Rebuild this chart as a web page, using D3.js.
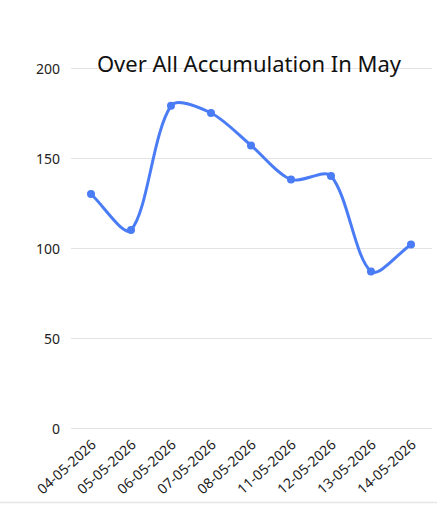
<!DOCTYPE html>
<html><head><meta charset="utf-8">
<script src="https://cdn.jsdelivr.net/npm/d3@7"></script>
<style>html,body{margin:0;padding:0;background:#fff;}svg{display:block;}</style>
</head><body>
<svg id="c" width="440" height="505"></svg>
<script>
const categories = ["04-05-2026","05-05-2026","06-05-2026","07-05-2026","08-05-2026","11-05-2026","12-05-2026","13-05-2026","14-05-2026"];
const values = [130, 110, 179, 175, 157, 138, 140, 87, 102];
const yTicks = [0, 50, 100, 150, 200];
const title = "Over All Accumulation In May";

const svg = d3.select("#c");
const font = "'Noto Sans', 'Open Sans', sans-serif";
const x = d3.scalePoint().domain(categories).range([71, 431]).padding(0.5);
const y = d3.scaleLinear().domain([0, 200]).range([428, 68]);

// bottom border
svg.append("line").attr("x1", 0).attr("x2", 437).attr("y1", 502.5).attr("y2", 502.5)
  .attr("stroke", "#e6e6e6").attr("stroke-width", 1.5);

// grid
svg.append("g").selectAll("line").data(yTicks).join("line")
  .attr("x1", 71).attr("x2", 432)
  .attr("y1", d => Math.round(y(d)) + 0.5).attr("y2", d => Math.round(y(d)) + 0.5)
  .attr("stroke", "#e3e3e3").attr("stroke-width", 1);

// y labels
svg.append("g").selectAll("text").data(yTicks).join("text")
  .attr("x", 60).attr("y", d => y(d) + 1).attr("dy", "0.35em")
  .attr("text-anchor", "end").attr("font-family", font).attr("font-size", 14)
  .attr("fill", "#222").text(d => d);

// x labels
svg.append("g").selectAll("text").data(categories).join("text")
  .attr("transform", d => `translate(${x(d) + 6},446) rotate(-42)`)
  .attr("text-anchor", "end").attr("font-family", font).attr("font-size", 14)
  .attr("fill", "#222").text(d => d);

// title
svg.append("text").attr("x", 249).attr("y", 72).attr("text-anchor", "middle")
  .attr("font-family", font).attr("font-size", 22).attr("fill", "#111").text(title);

// Chart.js-style spline built from scaled points
const pts = values.map((v, i) => [x(categories[i]), y(v)]);
const t = 0.3;
const cps = pts.map((p, i) => {
  const prev = pts[i - 1] || p, next = pts[i + 1] || p;
  const d01 = Math.hypot(p[0] - prev[0], p[1] - prev[1]);
  const d12 = Math.hypot(next[0] - p[0], next[1] - p[1]);
  let s01 = d01 / (d01 + d12), s12 = d12 / (d01 + d12);
  if (!isFinite(s01)) s01 = 0; if (!isFinite(s12)) s12 = 0;
  const fa = t * s01, fb = t * s12;
  return {
    prev: [p[0] - fa * (next[0] - prev[0]), p[1] - fa * (next[1] - prev[1])],
    next: [p[0] + fb * (next[0] - prev[0]), p[1] + fb * (next[1] - prev[1])]
  };
});
const path = d3.path();
path.moveTo(pts[0][0], pts[0][1]);
for (let i = 1; i < pts.length; i++) {
  const a = cps[i - 1].next, b = cps[i].prev;
  path.bezierCurveTo(a[0], a[1], b[0], b[1], pts[i][0], pts[i][1]);
}
svg.append("path").attr("d", path.toString())
  .attr("fill", "none").attr("stroke", "#4a7cf5").attr("stroke-width", 3)
  .attr("stroke-linejoin", "round");

svg.append("g").selectAll("circle").data(values).join("circle")
  .attr("cx", (d, i) => x(categories[i])).attr("cy", d => y(d)).attr("r", 4)
  .attr("fill", "#4a7cf5");
</script>
</body></html>
